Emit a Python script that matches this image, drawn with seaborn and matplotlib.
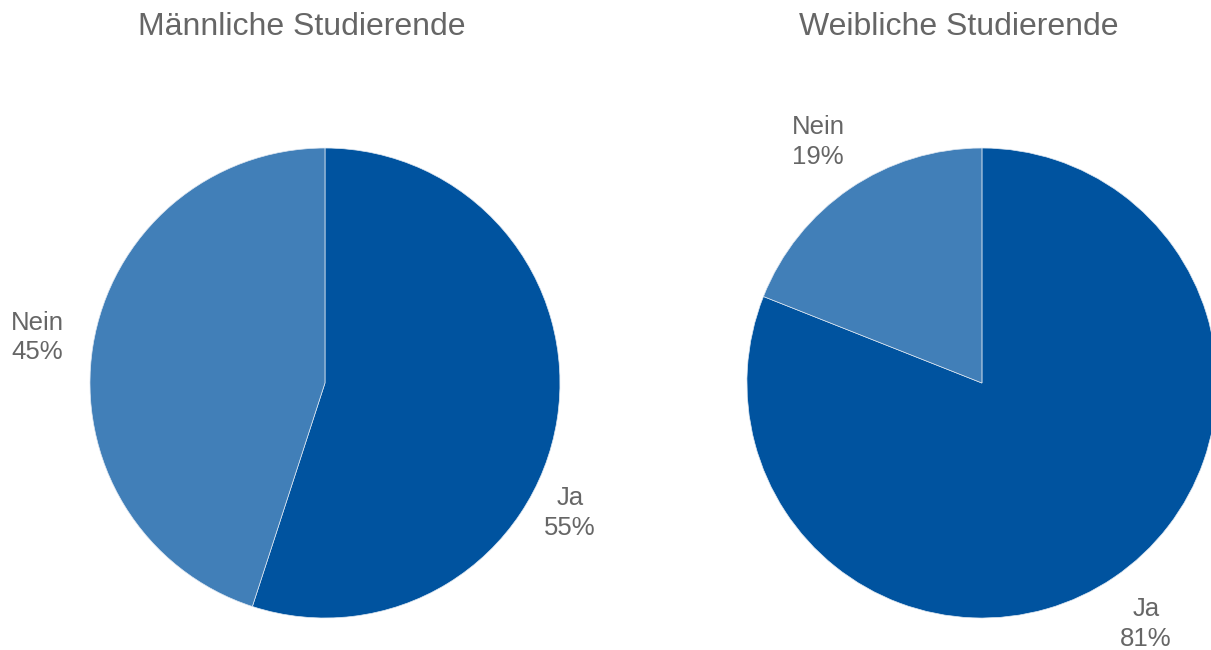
import matplotlib
matplotlib.use("Agg")
import matplotlib.pyplot as plt
import seaborn as sns
import numpy as np

sns.set_theme(style="white")
plt.rcParams['font.family'] = ['Liberation Sans', 'DejaVu Sans']

categories = ["Ja", "Nein"]
maennlich = [55, 45]
weiblich = [81, 19]
titles = ["Männliche Studierende", "Weibliche Studierende"]

colors = ["#00539F", "#417FB8"]
text_col = "#666666"

fig = plt.figure(figsize=(12.11, 6.5), dpi=100)

# pie axes placed so that each pie has radius ~235 px
ax_l = fig.add_axes([0.0743, 0.0492, 0.3881, 0.7231])
ax_r = fig.add_axes([0.6168, 0.0492, 0.3881, 0.7231])

for ax, vals, title, tx in zip([ax_l, ax_r], [maennlich, weiblich], titles, [0.249, 0.792]):
    labels = [f"{c}\n{v}%" for c, v in zip(categories, vals)]
    wedges, texts = ax.pie(vals, labels=labels, colors=colors, startangle=90,
                           counterclock=False, labeldistance=1.24,
                           wedgeprops=dict(linewidth=0.5, edgecolor="#dfe8f2"),
                           textprops=dict(color=text_col, fontsize=18.5, ha="center",
                                          va="center", linespacing=1.3))
    for t in texts:
        t.set_horizontalalignment("center")
    ax.set_xlim(-1, 1)
    ax.set_ylim(-1, 1)
    ax.set_aspect("equal")
    ax.axis("off")
    fig.text(tx, 0.958, title, ha="center", va="center", fontsize=23, color=text_col)

# Excel put the left "Ja" label lower than the slice middle
texts_l = [t for t in ax_l.texts]
ang = np.deg2rad(-28)
texts_l[0].set_position((1.18 * np.cos(ang), 1.18 * np.sin(ang)))
# left "Nein" sits a little lower in the reference
ang = np.deg2rad(171)
texts_l[1].set_position((1.24 * np.cos(ang), 1.24 * np.sin(ang)))

fig.savefig("out.png", dpi=100)
